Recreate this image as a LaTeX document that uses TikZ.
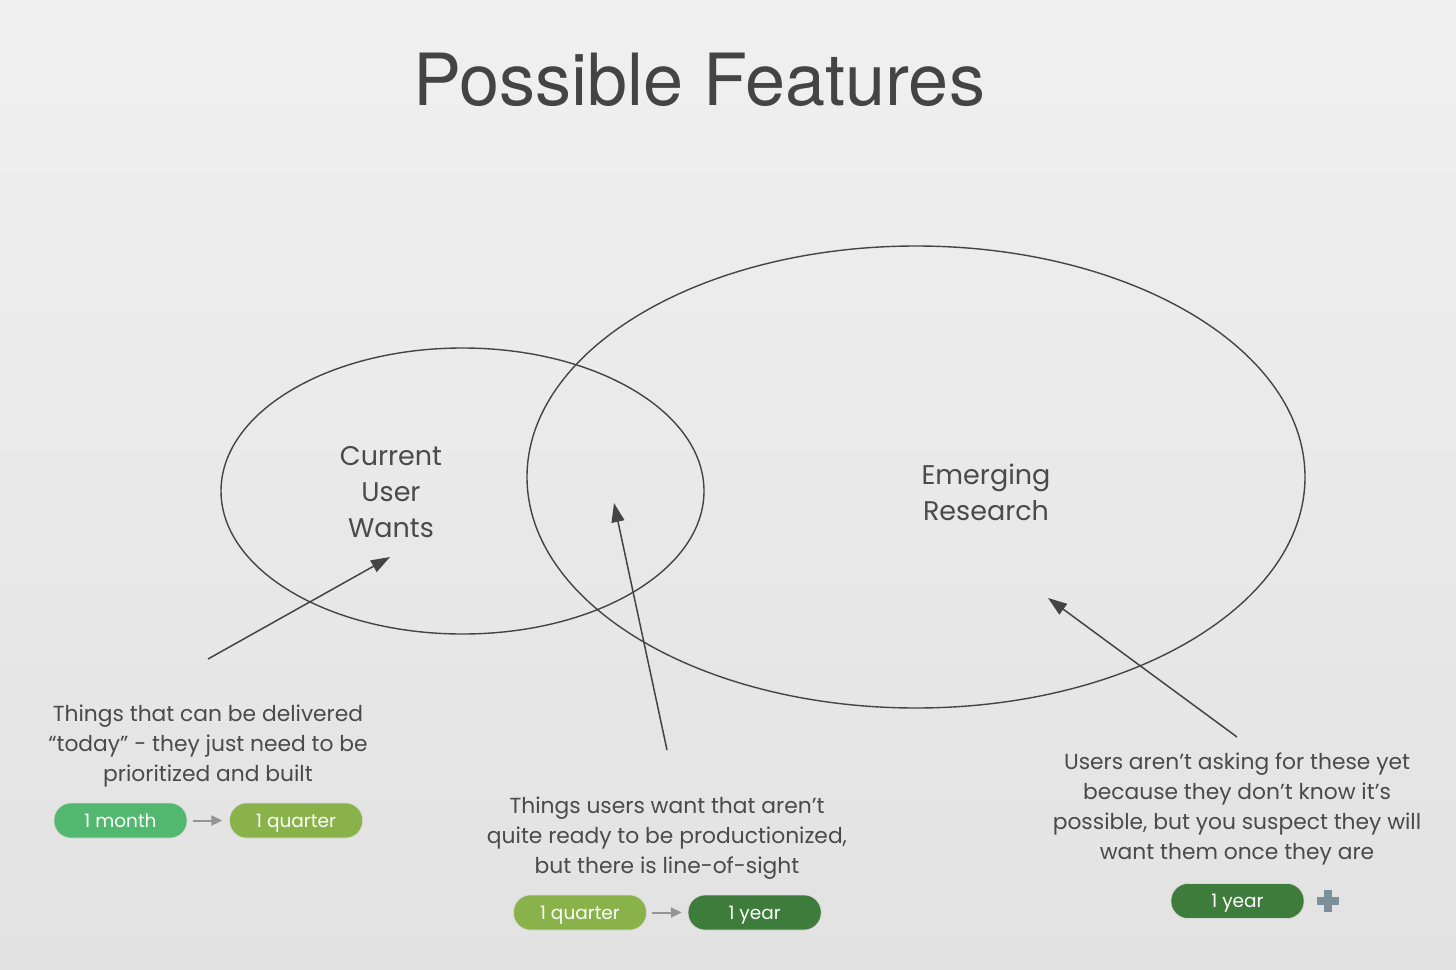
\documentclass[tikz,border=0pt]{standalone}
\usepackage{fontspec}
\setmainfont{Poppins}
\newfontfamily\titlefont{TeX Gyre Heros}
\usepackage{xcolor}
\usetikzlibrary{arrows.meta,positioning,shapes.geometric,calc}
\definecolor{ink}{HTML}{444444}
\definecolor{txt}{HTML}{4A4A4A}
\definecolor{monthgreen}{HTML}{52B86F}
\definecolor{quartergreen}{HTML}{89B34A}
\definecolor{yeargreen}{HTML}{3E7C3B}
\definecolor{plusgray}{HTML}{7C8F9B}
\definecolor{bgtop}{HTML}{F0F0F0}
\definecolor{bgbot}{HTML}{E2E2E2}
\tikzset{
  blob/.style={ellipse, draw=ink, line width=1.4pt, inner sep=0pt, outer sep=0pt},
  setlabel/.style={align=center, text=txt, font=\fontsize{27}{36}\selectfont},
  note/.style={align=center, text=txt, font=\fontsize{21.8}{30}\selectfont},
  pill/.style={rounded corners=17pt, minimum width=133pt, minimum height=35pt, inner sep=0pt,
    text height=15pt, text depth=2pt,
    text=white, font=\fontsize{18.5}{19}\selectfont, draw=white!85!black, line width=0.6pt},
  line/.style={-{Triangle[length=19pt,width=13pt]}, draw=ink, line width=1.5pt},
  nextline/.style={-{Triangle[length=11pt,width=10pt]}, draw=black!42, line width=2pt}
}

\begin{document}
\begin{tikzpicture}[x=1pt, y=-1pt, node distance=42pt]
  \shade[top color=bgtop, bottom color=bgbot] (0,0) rectangle (1456,969);
  \useasboundingbox (0,0) rectangle (1456,969);

  \node[anchor=base, text=ink, font=\titlefont\fontsize{72}{72}\selectfont] (title) at (699,105) {Possible Features};

  % the two sets
  \node[blob, minimum width=483pt, minimum height=286pt] (wants) at (462.5,491) {};
  \node[blob, minimum width=778pt, minimum height=462pt] (research) at (916,477) {};
  \node[setlabel] (wantslbl) at (391,492) {Current\\User\\Wants};
  \node[setlabel] (researchlbl) at (986,492) {Emerging\\Research};

  % notes
  \node[note] (today) at (208,746) {Things that can be delivered\\``today'' - they just need to be\\prioritized and built};
  \node[note] (sight) at (667,838) {Things users want that aren't\\quite ready to be productionized,\\but there is line-of-sight};
  \node[note] (later) at (1237,809) {Users aren't asking for these yet\\because they don't know it's\\possible, but you suspect they will\\want them once they are};

  \coordinate (t1) at (208,659);   \coordinate (h1) at (390,557);
  \coordinate (t2) at (667,750);   \coordinate (h2) at (614,503);
  \coordinate (t3) at (1237,737);  \coordinate (h3) at (1048,598);
  \draw[line] (t1) -- (h1);
  \draw[line] (t2) -- (h2);
  \draw[line] (t3) -- (h3);

  % time frames
  \node[pill, fill=monthgreen] (month) at (120.5,820.5) {1 month};
  \node[pill, fill=quartergreen, right=of month] (quarterA) {1 quarter};
  \node[pill, fill=quartergreen] (quarterB) at (580,912.5) {1 quarter};
  \node[pill, fill=yeargreen, right=41pt of quarterB] (yearA) {1 year};
  \node[pill, fill=yeargreen] (yearB) at (1237.5,901) {1 year};
  \draw[nextline] ([xshift=6pt]month.east) -- ([xshift=-7pt]quarterA.west);
  \draw[nextline] ([xshift=5pt]quarterB.east) -- ([xshift=-6pt]yearA.west);

  \fill[plusgray] (1316.5,897) rectangle (1339,905);
  \fill[plusgray] (1323.5,890) rectangle (1331.5,912);
\end{tikzpicture}
\end{document}
